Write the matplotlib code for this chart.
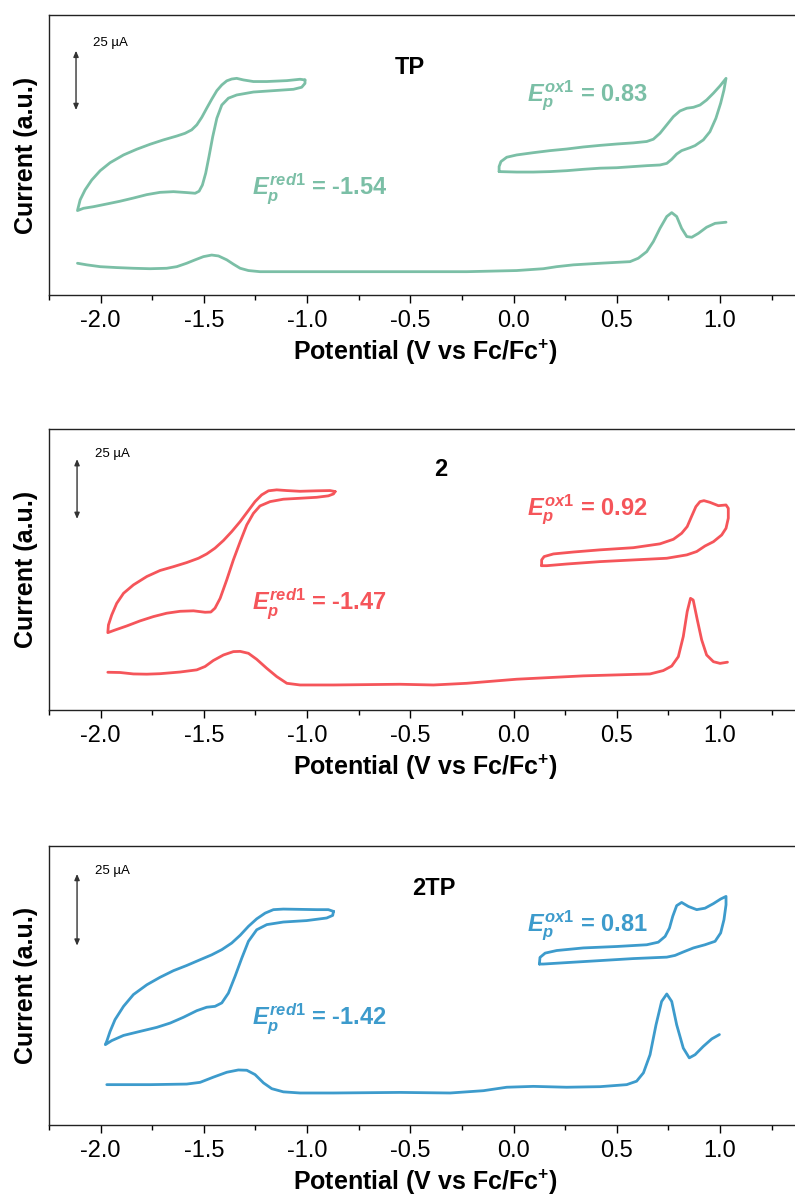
import numpy as np
import matplotlib
matplotlib.use("Agg")
import matplotlib.pyplot as plt
from matplotlib.ticker import MultipleLocator

plt.rcParams['font.family'] = 'Liberation Sans'
plt.rcParams['axes.unicode_minus'] = False
plt.rcParams['mathtext.fontset'] = 'custom'
plt.rcParams['mathtext.rm'] = 'Liberation Sans:weight=bold'
plt.rcParams['mathtext.bf'] = 'Liberation Sans:weight=bold'
plt.rcParams['mathtext.it'] = 'Liberation Sans:style=italic:weight=bold'

# currents are in uA (read against the 25 uA scale bar), potentials in V vs Fc/Fc+

# ---- TP (green) ----
tp_red_v = [-1.010, -1.034, -1.098, -1.195, -1.260, -1.308, -1.341, -1.365, -1.389, -1.413,
            -1.437, -1.462, -1.486, -1.510, -1.534, -1.559, -1.591, -1.631, -1.696, -1.760,
            -1.825, -1.889, -1.954, -2.002, -2.043, -2.075, -2.099, -2.112,
            -2.083, -2.035, -1.970, -1.906, -1.841, -1.776, -1.712, -1.647, -1.583, -1.542,
            -1.523, -1.507, -1.491, -1.475, -1.457, -1.437, -1.413, -1.381, -1.341, -1.260,
            -1.163, -1.066, -1.026, -1.010, -1.010]
tp_red_i = [94.3, 94.6, 94.0, 93.6, 93.6, 94.3, 95.0, 94.7, 93.9, 92.1,
            89.6, 85.8, 81.9, 77.9, 74.6, 72.4, 70.9, 69.7, 68.0, 66.1,
            63.9, 61.4, 58.0, 54.5, 50.4, 46.1, 41.7, 37.0,
            38.0, 38.7, 39.9, 41.1, 42.5, 44.0, 45.0, 45.3, 44.9, 44.6,
            45.5, 48.2, 53.4, 60.7, 69.4, 77.5, 83.3, 86.3, 87.7, 89.0,
            89.6, 90.2, 91.1, 92.8, 94.3]
tp_ox_v = [-0.070, -0.070, -0.061, -0.033, 0.015, 0.096, 0.177, 0.257, 0.338, 0.419,
           0.500, 0.580, 0.645, 0.677, 0.709, 0.742, 0.774, 0.806, 0.839, 0.871,
           0.903, 0.935, 0.968, 1.000, 1.029,
           1.019, 1.003, 0.980, 0.951, 0.919, 0.879, 0.855, 0.814, 0.790, 0.766,
           0.742, 0.709, 0.645, 0.580, 0.500, 0.419, 0.338, 0.257, 0.177, 0.096,
           0.015, -0.070]
tp_ox_i = [54.1, 56.3, 58.5, 60.4, 61.4, 62.4, 63.3, 64.0, 64.9, 65.6,
           66.2, 66.7, 67.3, 68.3, 70.9, 74.6, 78.2, 80.7, 81.9, 82.3,
           83.3, 85.5, 88.5, 91.7, 95.0,
           89.9, 84.1, 77.5, 71.6, 68.0, 65.5, 64.6, 63.3, 61.8, 59.5,
           57.7, 57.0, 56.7, 56.3, 55.8, 55.6, 55.1, 54.5, 54.1, 53.9,
           53.9, 54.1]
tp_dpv_v = [-2.112, -2.067, -2.002, -1.922, -1.841, -1.760, -1.680, -1.631, -1.583, -1.542,
            -1.502, -1.462, -1.429, -1.389, -1.357, -1.324, -1.284, -1.228, -1.034, -0.550,
            -0.227, 0.015, 0.144, 0.209, 0.290, 0.419, 0.564, 0.604, 0.645, 0.677,
            0.709, 0.742, 0.766, 0.790, 0.814, 0.839, 0.863, 0.895, 0.935, 0.976, 1.029]
tp_dpv_i = [13.9, 13.2, 12.4, 12.0, 11.7, 11.5, 11.7, 12.4, 13.9, 15.4,
            16.8, 17.5, 17.1, 15.4, 13.5, 11.7, 10.7, 10.2, 10.2, 10.2,
            10.2, 10.7, 11.5, 12.4, 13.2, 13.9, 14.6, 16.1, 19.0, 23.4,
            29.2, 34.4, 36.1, 34.4, 29.2, 25.6, 25.3, 27.0, 29.7, 31.4, 31.9]

# ---- 2 (red) ----
c2_red_v = [-0.864, -0.889, -0.953, -1.034, -1.098, -1.147, -1.187, -1.220, -1.252, -1.284,
            -1.324, -1.365, -1.405, -1.446, -1.486, -1.526, -1.583, -1.647, -1.712, -1.776,
            -1.841, -1.889, -1.922, -1.946, -1.962, -1.965,
            -1.930, -1.873, -1.809, -1.744, -1.680, -1.615, -1.550, -1.494, -1.466, -1.446,
            -1.421, -1.389, -1.357, -1.324, -1.292, -1.260, -1.228, -1.179, -1.115, -1.034,
            -0.953, -0.897, -0.872, -0.864]
c2_red_i = [91.0, 91.4, 91.3, 91.1, 91.4, 91.7, 91.3, 89.6, 86.8, 83.1,
            78.5, 74.3, 70.6, 67.4, 65.0, 63.2, 61.4, 59.7, 58.1, 55.6,
            52.1, 48.6, 44.4, 39.6, 35.4, 32.2,
            33.3, 35.0, 37.1, 38.9, 40.3, 41.1, 41.3, 40.7, 40.8, 42.4,
            46.5, 54.2, 62.5, 70.1, 77.1, 81.9, 85.0, 86.8, 87.8, 88.2,
            88.6, 89.2, 90.0, 91.0]
c2_ox_v = [0.136, 0.136, 0.148, 0.193, 0.290, 0.419, 0.580, 0.709, 0.774, 0.814,
           0.841, 0.862, 0.883, 0.903, 0.922, 0.951, 0.992, 1.029, 1.040, 1.040,
           1.029, 1.008, 0.968, 0.927, 0.887, 0.839, 0.742, 0.580, 0.419, 0.257,
           0.161, 0.136]
c2_ox_i = [60.1, 62.5, 63.9, 65.0, 65.8, 66.7, 67.6, 69.2, 71.1, 73.6,
           76.4, 80.6, 84.7, 86.8, 87.2, 86.5, 85.1, 85.4, 84.0, 79.9,
           75.7, 72.9, 70.1, 68.3, 66.0, 64.6, 63.2, 62.5, 61.8, 60.8,
           60.1, 60.1]
c2_dpv_v = [-1.965, -1.906, -1.841, -1.776, -1.712, -1.615, -1.534, -1.494, -1.454, -1.405,
            -1.357, -1.324, -1.284, -1.244, -1.196, -1.147, -1.098, -1.034, -0.872, -0.550,
            -0.388, -0.227, 0.015, 0.338, 0.661, 0.725, 0.766, 0.798, 0.822, 0.841,
            0.857, 0.870, 0.890, 0.911, 0.935, 0.968, 1.000, 1.036]
c2_dpv_i = [15.7, 15.6, 15.0, 14.9, 15.1, 15.8, 16.7, 18.1, 20.6, 22.9,
            24.3, 24.4, 23.6, 21.1, 17.4, 13.9, 11.1, 10.4, 10.4, 10.7,
            10.4, 11.1, 12.8, 14.2, 15.0, 16.4, 18.3, 22.2, 30.6, 41.0,
            46.5, 45.8, 37.5, 29.2, 22.9, 20.1, 19.4, 19.9]

# ---- 2TP (blue) ----
c2tp_red_v = [-0.872, -0.897, -0.953, -1.034, -1.115, -1.163, -1.203, -1.244, -1.284, -1.324,
              -1.365, -1.413, -1.462, -1.518, -1.583, -1.647, -1.712, -1.776, -1.841, -1.889,
              -1.930, -1.954, -1.970, -1.977,
              -1.946, -1.889, -1.809, -1.728, -1.663, -1.599, -1.534, -1.486, -1.446, -1.413,
              -1.381, -1.349, -1.316, -1.284, -1.244, -1.195, -1.115, -1.002, -0.905, -0.876,
              -0.872]
c2tp_red_i = [74.2, 74.8, 74.8, 74.9, 75.0, 74.8, 73.6, 71.6, 69.0, 65.9,
              63.2, 60.9, 59.1, 57.4, 55.4, 53.6, 51.3, 48.7, 45.3, 41.2,
              36.6, 32.5, 29.1, 27.9,
              29.3, 31.1, 32.5, 33.9, 35.4, 37.4, 39.7, 40.9, 41.2, 42.4,
              45.8, 51.6, 58.0, 63.8, 67.8, 69.6, 70.5, 71.0, 71.9, 72.8,
              74.2]
c2tp_ox_v = [0.125, 0.128, 0.153, 0.209, 0.338, 0.500, 0.645, 0.701, 0.734, 0.755,
             0.771, 0.790, 0.814, 0.847, 0.887, 0.927, 0.968, 1.003, 1.029,
             1.029, 1.019, 1.003, 0.976, 0.927, 0.871, 0.822, 0.782, 0.742, 0.580,
             0.419, 0.257, 0.144, 0.125]
c2tp_ox_i = [55.9, 58.2, 59.7, 60.6, 61.5, 62.0, 62.6, 63.5, 65.5, 68.4,
             72.5, 76.2, 77.3, 75.9, 74.8, 75.3, 76.9, 78.5, 79.4,
             76.5, 71.3, 66.7, 63.8, 62.6, 61.5, 60.1, 58.9, 58.3, 57.8,
             57.1, 56.4, 55.9, 55.9]
c2tp_dpv_v = [-1.970, -1.760, -1.583, -1.518, -1.454, -1.389, -1.333, -1.292, -1.252, -1.211,
              -1.171, -1.115, -1.034, -0.872, -0.550, -0.307, -0.146, -0.033, 0.096, 0.257,
              0.419, 0.548, 0.596, 0.629, 0.661, 0.690, 0.717, 0.742, 0.766, 0.790,
              0.822, 0.851, 0.879, 0.919, 0.960, 0.997]
c2tp_dpv_i = [14.0, 14.0, 14.2, 14.8, 16.6, 18.3, 19.1, 19.0, 17.5, 14.6,
              12.6, 11.5, 11.1, 11.1, 11.3, 11.1, 11.9, 13.1, 13.4, 13.1,
              13.3, 14.0, 15.2, 18.1, 24.4, 34.8, 42.9, 45.5, 42.9, 34.8,
              26.7, 23.3, 24.4, 27.3, 29.9, 31.4]

names = ['TP', '2', '2TP']
colors = ['#7bbfa6', '#f5555a', '#3d9bcc']
e_red = ['-1.54', '-1.47', '-1.42']
e_ox = ['0.83', '0.92', '0.81']

curves = [
    [(tp_red_v, tp_red_i), (tp_ox_v, tp_ox_i), (tp_dpv_v, tp_dpv_i)],
    [(c2_red_v, c2_red_i), (c2_ox_v, c2_ox_i), (c2_dpv_v, c2_dpv_i)],
    [(c2tp_red_v, c2tp_red_i), (c2tp_ox_v, c2tp_ox_i), (c2tp_dpv_v, c2tp_dpv_i)],
]

# per-panel layout: axes rect, y range, scale bar, label spots
# the axes run past the right edge of the figure (right spine is cropped away)
rects = [[0.0616, 0.7536, 0.948, 0.2339],
         [0.0616, 0.4069, 0.948, 0.2348],
         [0.0616, 0.0602, 0.948, 0.2330]]
ytops = [122.8, 117.1, 96.9]
bars = [(-2.119, 81.1, 107.1, -2.036, 110.5),
        (-2.114, 79.6, 104.5, -2.027, 106.7),
        (-2.114, 62.3, 87.2, -2.027, 88.2)]
name_pos = [(-0.501, 99.6), (-0.351, 100.0), (-0.385, 82.3)]
red_pos = [(-1.266, 43.9), (-1.266, 41.7), (-1.266, 34.8)]
ox_pos = [(0.065, 84.8), (0.065, 81.0), (0.065, 67.3)]

fig = plt.figure(figsize=(7.95, 11.97), dpi=100)

for k in range(3):
    ax = fig.add_axes(rects[k])
    for v, i in curves[k]:
        ax.plot(v, i, color=colors[k], lw=2.0, solid_joinstyle='round', solid_capstyle='round')

    ax.set_xlim(-2.25, 1.4)
    ax.set_ylim(0, ytops[k])
    ax.set_yticks([])
    ax.xaxis.set_major_locator(MultipleLocator(0.5))
    ax.xaxis.set_minor_locator(MultipleLocator(0.25))
    ax.tick_params(axis='x', which='major', direction='out', length=6, width=1, labelsize=17, pad=5)
    ax.tick_params(axis='x', which='minor', direction='out', length=3.5, width=1)
    for s in ax.spines.values():
        s.set_linewidth(1.0)
        s.set_color('#222222')

    ax.set_xlabel(r'Potential (V vs Fc/Fc$^{\mathbf{+}}$)', fontsize=18, fontweight='bold', labelpad=4)
    ax.set_ylabel('Current (a.u.)', fontsize=18, fontweight='bold', labelpad=8)

    # 25 uA scale bar
    bx, b0, b1, tx, ty = bars[k]
    ax.annotate('', xy=(bx, b1), xytext=(bx, b0),
                arrowprops=dict(arrowstyle='<|-|>,head_length=0.35,head_width=0.15',
                                color='#333333', lw=1.0, shrinkA=0, shrinkB=0))
    ax.text(tx, ty, '25 µA', fontsize=9.5, ha='left', va='center')

    ax.text(name_pos[k][0], name_pos[k][1], names[k], fontsize=17, fontweight='bold',
            ha='center', va='center')
    ax.text(red_pos[k][0], red_pos[k][1],
            r'$\mathit{E}_{\mathit{p}}^{\mathit{red1}}$' + ' = ' + e_red[k],
            fontsize=17, fontweight='bold', color=colors[k], ha='left', va='baseline')
    ax.text(ox_pos[k][0], ox_pos[k][1],
            r'$\mathit{E}_{\mathit{p}}^{\mathit{ox1}}$' + ' = ' + e_ox[k],
            fontsize=17, fontweight='bold', color=colors[k], ha='left', va='baseline')

fig.savefig('out.png', dpi=100)
